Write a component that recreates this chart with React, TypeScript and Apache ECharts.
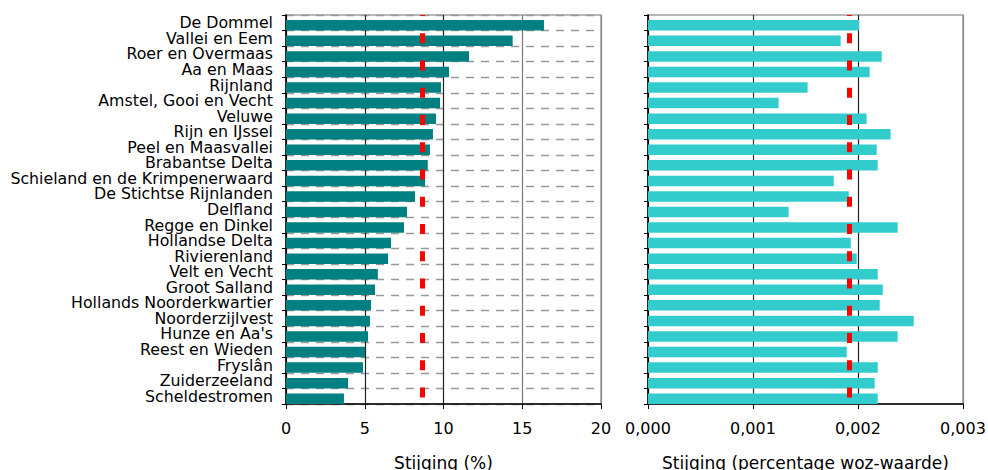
import React, { useEffect, useRef } from "react";
import * as echarts from "echarts";

const categories = [
  "De Dommel",
  "Vallei en Eem",
  "Roer en Overmaas",
  "Aa en Maas",
  "Rijnland",
  "Amstel, Gooi en Vecht",
  "Veluwe",
  "Rijn en IJssel",
  "Peel en Maasvallei",
  "Brabantse Delta",
  "Schieland en de Krimpenerwaard",
  "De Stichtse Rijnlanden",
  "Delfland",
  "Regge en Dinkel",
  "Hollandse Delta",
  "Rivierenland",
  "Velt en Vecht",
  "Groot Salland",
  "Hollands Noorderkwartier",
  "Noorderzijlvest",
  "Hunze en Aa's",
  "Reest en Wieden",
  "Fryslân",
  "Zuiderzeeland",
  "Scheldestromen",
];

const stijgingPct = [
  16.38, 14.39, 11.62, 10.35, 9.84, 9.78, 9.52, 9.33, 9.14, 9.0, 8.83, 8.19, 7.68,
  7.49, 6.67, 6.48, 5.83, 5.65, 5.4, 5.33, 5.21, 5.02, 4.89, 3.94, 3.68,
];

const stijgingWoz = [
  0.00201, 0.001835, 0.002226, 0.002111, 0.00152, 0.001244, 0.002082, 0.002311,
  0.002178, 0.002188, 0.001769, 0.001912, 0.001339, 0.002378, 0.001931, 0.001988,
  0.002188, 0.002236, 0.002207, 0.002531, 0.002378, 0.001893, 0.002188, 0.002159,
  0.002188,
];

const gemiddeldePct = 8.67;
const gemiddeldeWoz = 0.001916;

const pctAxis = { min: 0, max: 20, interval: 5 };
const wozAxis = { min: 0, max: 0.003, interval: 0.001 };

const leftTitle = "Stijging (%)";
const rightTitle = "Stijging (percentage woz-waarde)";

const FONT = "DejaVu Sans";

export default function App() {
  const ref = useRef<HTMLDivElement>(null);

  useEffect(() => {
    if (!ref.current) return;
    const chart = echarts.init(ref.current, undefined, { renderer: "svg" });

    const catAxis = (gridIndex: number, withLabels: boolean, withSplit: boolean) => ({
      type: "category",
      gridIndex,
      data: categories,
      inverse: true,
      axisLine: { show: true, lineStyle: { color: "#000", width: 1.5 } },
      axisTick: { show: true, length: 4, lineStyle: { color: "#000", width: 1 } },
      axisLabel: {
        show: withLabels,
        margin: 13,
        fontFamily: FONT,
        fontSize: 15.8,
        lineHeight: 15,
        color: "#000",
        interval: 0,
      },
      splitLine: {
        show: withSplit,
        lineStyle: { color: "#999", width: 1.3, type: [8, 7] },
      },
    });

    const valAxis = (
      gridIndex: number,
      ax: { min: number; max: number; interval: number },
      name: string,
      formatter: (v: number) => string,
      splitColors: string[]
    ) => ({
      type: "value",
      gridIndex,
      min: ax.min,
      max: ax.max,
      interval: ax.interval,
      name,
      nameLocation: "middle",
      nameGap: 50,
      nameTextStyle: { fontFamily: FONT, fontSize: 17, color: "#000" },
      axisLine: { show: true, lineStyle: { color: "#000", width: 1.5 } },
      axisTick: { show: true, length: 5, lineStyle: { color: "#000", width: 1 } },
      axisLabel: {
        margin: 16,
        fontFamily: FONT,
        fontSize: 16,
        color: "#000",
        formatter,
      },
      splitLine: { show: true, lineStyle: { color: splitColors, width: 1.2 } },
    });

    const redLine = (v: number) => ({
      silent: true,
      precision: 6,
      symbol: ["none", "none"],
      label: { show: false },
      emphasis: { disabled: true },
      lineStyle: {
        color: "#ff0000",
        width: 5,
        type: [10, 17.25],
        dashOffset: 9.25,
        opacity: 1,
      },
      data: [{ xAxis: v }],
    });

    chart.setOption({
      animation: false,
      grid: [
        {
          left: 286,
          top: 15,
          width: 315,
          height: 389,
          show: true,
          borderColor: "#a0a0a0",
          borderWidth: 1.5,
          outerBoundsMode: "none",
          containLabel: false,
        },
        {
          left: 648,
          top: 15,
          width: 315,
          height: 389,
          show: true,
          borderColor: "#a0a0a0",
          borderWidth: 1.5,
          outerBoundsMode: "none",
          containLabel: false,
        },
      ],
      xAxis: [
        valAxis(0, pctAxis, leftTitle, (v: number) => String(v), [
          "#000",
          "#222",
          "#222",
          "#777",
          "#888",
        ]),
        valAxis(
          1,
          wozAxis,
          rightTitle,
          (v: number) => v.toFixed(3).replace(".", ","),
          ["#000", "#333", "#222", "#888"]
        ),
      ],
      yAxis: [catAxis(0, true, true), catAxis(1, false, false)],
      series: [
        {
          type: "bar",
          xAxisIndex: 0,
          yAxisIndex: 0,
          data: [],
          barWidth: 5,
          barGap: "0%",
          silent: true,
        },
        {
          type: "bar",
          xAxisIndex: 0,
          yAxisIndex: 0,
          data: stijgingPct,
          barWidth: 10.5,
          barGap: "0%",
          itemStyle: { color: "#008080" },
          emphasis: { disabled: true },
          markLine: redLine(gemiddeldePct),
        },
        {
          type: "bar",
          xAxisIndex: 1,
          yAxisIndex: 1,
          data: [],
          barWidth: 5,
          barGap: "0%",
          silent: true,
        },
        {
          type: "bar",
          xAxisIndex: 1,
          yAxisIndex: 1,
          data: stijgingWoz,
          barWidth: 10.5,
          barGap: "0%",
          itemStyle: { color: "#33cccc" },
          emphasis: { disabled: true },
          markLine: redLine(gemiddeldeWoz),
        },
      ],
    });

    return () => chart.dispose();
  }, []);

  return (
    <div
      ref={ref}
      style={{ position: "fixed", left: 0, top: 0, width: 988, height: 470, background: "#fff" }}
    />
  );
}
